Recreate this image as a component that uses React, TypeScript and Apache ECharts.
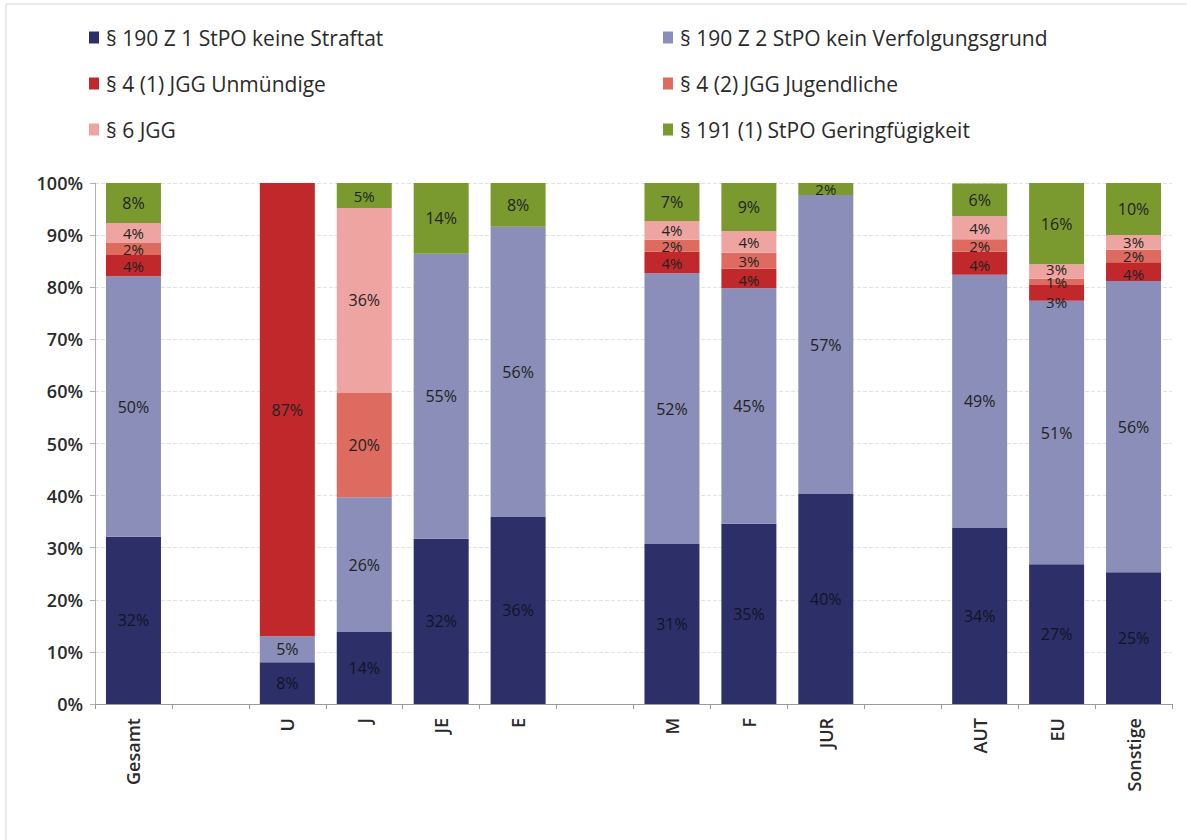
import React, { useEffect, useRef } from "react";
import * as echarts from "echarts";

const categories = ["Gesamt", "", "U", "J", "JE", "E", "", "M", "F", "JUR", "", "AUT", "EU", "Sonstige"];

const seriesNames = [
  "§ 190 Z 1 StPO keine Straftat",
  "§ 190 Z 2 StPO kein Verfolgungsgrund",
  "§ 4 (1) JGG Unmündige",
  "§ 4 (2) JGG Jugendliche",
  "§ 6 JGG",
  "§ 191 (1) StPO Geringfügigkeit",
];

const keineStraftat = [32.1, null, 8, 13.8, 31.7, 35.9, null, 30.7, 34.6, 40.3, null, 33.8, 26.8, 25.3];
const keinVerfolgungsgrund = [50.0, null, 5, 25.9, 54.7, 55.7, null, 52.0, 45.2, 57.4, null, 48.6, 50.6, 55.9];
const unmuendige = [4.1, null, 87, 0, 0, 0, null, 4.1, 3.8, 0, null, 4.4, 3.0, 3.6];
const jugendliche = [2.3, null, 0, 20.0, 0, 0, null, 2.3, 3.0, 0, null, 2.4, 1.2, 2.4];
const jgg6 = [3.8, null, 0, 35.5, 0, 0, null, 3.6, 4.2, 0, null, 4.4, 2.8, 2.8];
const geringfuegigkeit = [7.7, null, 0, 4.8, 13.6, 8.4, null, 7.3, 9.2, 2.3, null, 6.3, 15.6, 10.0];

const yTicks = [0, 10, 20, 30, 40, 50, 60, 70, 80, 90, 100];

const colors = ["#2c2f68", "#8a8eb8", "#c0282b", "#de6b5f", "#eea5a1", "#7a9a30"];

// label nudges for crowded thin segments: [seriesIndex, categoryIndex, dy]
const labelNudges: [number, number, number][] = [
  [2, 12, 9],
  [4, 12, -3],
  [2, 13, 2],
  [2, 7, 1],
  [2, 8, 2],
  [2, 11, 2],
];

const FONT = "'Open Sans', 'Noto Sans', sans-serif";

export default function App() {
  const ref = useRef<HTMLDivElement>(null);

  useEffect(() => {
    if (!ref.current) return;
    const chart = echarts.init(ref.current, undefined, { renderer: "svg" });
    const dataSets = [keineStraftat, keinVerfolgungsgrund, unmuendige, jugendliche, jgg6, geringfuegigkeit];

    const series = dataSets.map((d, i) => ({
      name: seriesNames[i],
      type: "bar",
      stack: "total",
      barWidth: 55,
      data: d.map((v, j) => {
        if (v === null) return "-";
        const nudge = labelNudges.find((n) => n[0] === i && n[1] === j);
        const small = v < 5;
        if (!nudge && !small) return v;
        const label: any = {};
        if (nudge) label.offset = [0, nudge[2]];
        if (small) {
          label.fontSize = 15;
          label.lineHeight = 13;
        }
        return { value: v, label };
      }),
      itemStyle: { color: colors[i] },
      label: {
        show: true,
        position: "inside",
        color: i === 0 ? "#121426" : "#222222",
        fontFamily: FONT,
        fontSize: 16,
        formatter: (p: any) => (typeof p.value === "number" && p.value >= 0.5 ? Math.round(p.value) + "%" : ""),
      },
    }));

    const legendText = { fontFamily: FONT, fontSize: 21, color: "#2a2a2a", padding: [0, 0, 0, 2] };

    chart.setOption({
      animation: false,
      backgroundColor: "#ffffff",
      textStyle: { fontFamily: FONT },
      legend: [
        {
          orient: "vertical",
          left: 84,
          top: 22,
          itemGap: 25,
          itemWidth: 10,
          itemHeight: 12,
          icon: "rect",
          data: [seriesNames[0], seriesNames[2], seriesNames[4]],
          textStyle: legendText,
        },
        {
          orient: "vertical",
          left: 658,
          top: 22,
          itemGap: 25,
          itemWidth: 10,
          itemHeight: 12,
          icon: "rect",
          data: [seriesNames[1], seriesNames[3], seriesNames[5]],
          textStyle: legendText,
        },
      ],
      grid: { left: 95, right: 15, top: 183, bottom: 136, containLabel: false },
      xAxis: {
        type: "category",
        data: categories,
        axisLine: { lineStyle: { color: "#9a9a9a" } },
        axisTick: { show: true, length: 5, lineStyle: { color: "#9a9a9a" } },
        axisLabel: {
          rotate: 90,
          fontFamily: FONT,
          fontSize: 18,
          fontWeight: 600,
          color: "#2a2a2a",
          margin: 14,
          interval: 0,
        },
      },
      yAxis: {
        type: "value",
        min: yTicks[0],
        max: yTicks[yTicks.length - 1],
        interval: 10,
        axisLine: { show: true, lineStyle: { color: "#b0b0b0" } },
        axisTick: { show: true, length: 5, lineStyle: { color: "#b0b0b0" } },
        axisLabel: {
          formatter: "{value}%",
          fontFamily: FONT,
          fontSize: 18,
          fontWeight: 600,
          color: "#2a2a2a",
          margin: 12,
        },
        splitLine: { show: true, lineStyle: { color: "#e2e2e2", type: "dashed" } },
      },
      series,
      graphic: [
        { type: "line", shape: { x1: 6, y1: 4, x2: 1187, y2: 4 }, style: { stroke: "#d6d6d6", lineWidth: 1 } },
        { type: "line", shape: { x1: 6, y1: 4, x2: 6, y2: 840 }, style: { stroke: "#d6d6d6", lineWidth: 1 } },
      ],
    });

    return () => chart.dispose();
  }, []);

  return (
    <div
      ref={ref}
      style={{ position: "fixed", left: 0, top: 0, width: 1187, height: 840, background: "#fff" }}
    />
  );
}
